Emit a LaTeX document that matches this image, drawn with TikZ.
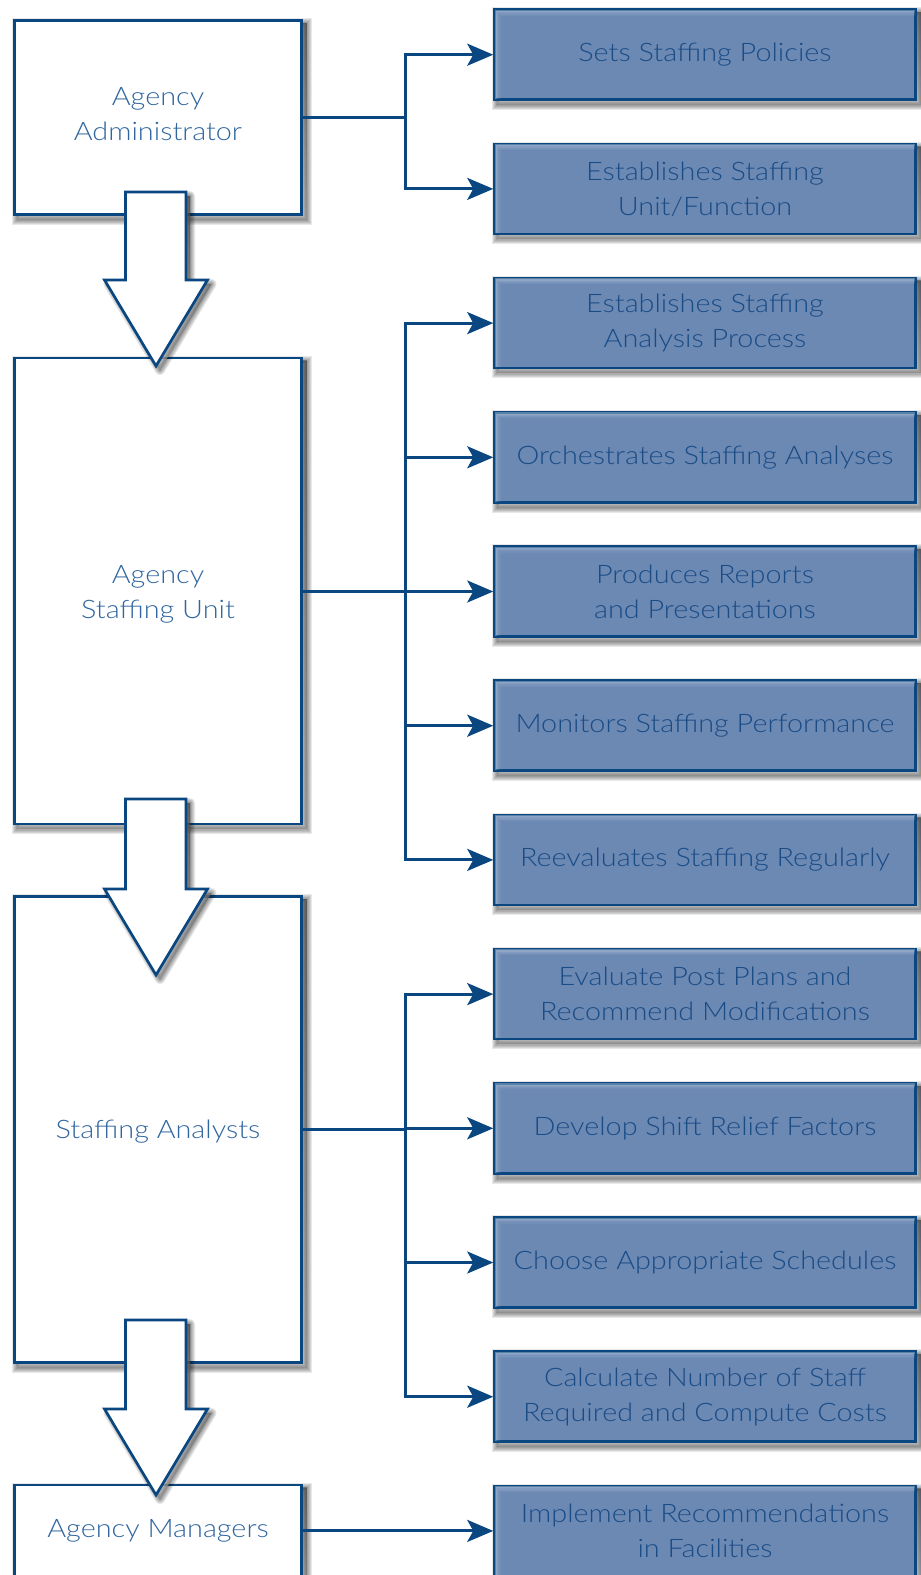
\documentclass[tikz,border=0pt]{standalone}
\usepackage{fontspec}
\setmainfont{Lato Light}[FakeStretch=1.13]
\usetikzlibrary{arrows.meta,calc,backgrounds}

\definecolor{navy}{RGB}{10,70,128}
\definecolor{lefttext}{RGB}{48,102,160}
\definecolor{taskfill}{RGB}{108,137,180}
\definecolor{tasktext}{RGB}{26,76,134}
\definecolor{shade}{RGB}{58,98,176}

\tikzset{
  leftbox/.style={draw=navy, line width=2.7pt, fill=white, minimum width=287pt,
    inner sep=0pt, text=lefttext, align=center,
    font=\fontsize{25.5}{35}\selectfont},
  taskbox/.style={draw=navy, line width=2.5pt, fill=taskfill, minimum width=421pt,
    minimum height=90pt, inner sep=0pt, text=tasktext, align=center,
    font=\fontsize{25.5}{35}\selectfont},
  link/.style={navy, line width=3pt, line cap=rect},
  linkarrow/.style={navy, line width=3pt,
    -{Stealth[length=26pt, width=22pt, inset=6pt]}},
  bigarrow/.style={draw=navy, line width=2.7pt, fill=white, line join=miter},
}

% move a line of text up or down without changing its box
\newcommand\nudge[2]{\raisebox{#1}[\height][\depth]{#2}}

% soft drop shadow below a rectangular node
\newcommand\boxshadow[1]{%
  \fill[shade, opacity=.4] ($(#1.north west)+(4,4)$) rectangle ($(#1.south east)+(4,4)$);
  \foreach \w in {2,4,6,8,10}
    {\draw[shade, opacity=.09, line width=\w pt]
      ($(#1.north west)+(4,4)$) rectangle ($(#1.south east)+(4,4)$);}
}
% light inner bevel along the top and left edges of a task box
\newcommand\innerglow[1]{%
  \foreach \k/\o in {2/.32,3.2/.24,4.4/.16,5.6/.10,6.8/.05}
    {\draw[white, opacity=\o, line width=1.2pt]
      ($(#1.south west)+(\k,-2)$) -- ($(#1.north west)+(\k,\k)$) -- ($(#1.north east)+(-2,\k)$);}
}
% white block arrow pointing down, with its shadow: top, shoulder and tip heights
\newcommand\downblock[3]{%
  \begin{scope}[shift={(4,4)}]
    \fill[shade, opacity=.4] (125.5,#1) -- (186,#1) -- (186,#2) -- (207.5,#2) -- (156,#3) -- (104.5,#2) -- (125.5,#2) -- cycle;
    \foreach \w in {2,4,6,8,10}
      {\draw[shade, opacity=.09, line width=\w pt, line join=round]
        (125.5,#1) -- (186,#1) -- (186,#2) -- (207.5,#2) -- (156,#3) -- (104.5,#2) -- (125.5,#2) -- cycle;}
  \end{scope}
  \path[bigarrow] (125.5,#1) -- (186,#1) -- (186,#2) -- (207.5,#2) -- (156,#3) -- (104.5,#2) -- (125.5,#2) -- cycle;
}

\begin{document}
\begin{tikzpicture}[x=1pt, y=-1pt]
  \useasboundingbox (0,0) rectangle (921,1575);

  % roles
  \node[leftbox, minimum height=194pt] (admin) at (158,117.5)
    {\nudge{3pt}{Agency}\\\nudge{3pt}{Administrator}};
  \node[leftbox, minimum height=466pt] (unit) at (158,591)
    {\nudge{-3pt}{Agency}\\\nudge{-3pt}{Staffing Unit}};
  \node[leftbox, minimum height=466pt] (analysts) at (158,1129.5)
    {\nudge{-2pt}{Staffing Analysts}};
  \node[leftbox, minimum height=130pt] (managers) at (158,1550)
    {\nudge{19pt}{Agency Managers}};

  % duties
  \foreach \i/\txt in {
      1/{Sets Staffing Policies},
      2/{Establishes Staffing\\Unit/Function},
      3/{Establishes Staffing\\Analysis Process},
      4/{Orchestrates Staffing Analyses},
      5/{Produces Reports\\and Presentations},
      6/{Monitors Staffing Performance},
      7/{Reevaluates Staffing Regularly},
      8/{Evaluate Post Plans and\\Recommend Modifications},
      9/{Develop Shift Relief Factors},
      10/{Choose Appropriate Schedules},
      11/{Calculate Number of Staff\\Required and Compute Costs},
      12/{Implement Recommendations\\in Facilities}}
    {\node[taskbox] (r\i) at (705,{54.7+134.2*(\i-1)}) {\txt};}

  \foreach \i in {1,...,12} {\innerglow{r\i}}

  \begin{scope}[on background layer]
    \foreach \n in {admin,unit,analysts,managers} {\boxshadow{\n}}
    \foreach \i in {1,...,12} {\boxshadow{r\i}}
  \end{scope}

  % connectors
  \coordinate (bus) at (405,0);
  \draw[link] (admin.east) -- (admin.east -| bus);
  \draw[link] (r1.west -| bus) -- (r2.west -| bus);
  \foreach \i in {1,2} {\draw[linkarrow] (r\i.west -| bus) -- (r\i.west);}

  \draw[link] (unit.east) -- (unit.east -| bus);
  \draw[link] (r3.west -| bus) -- (r7.west -| bus);
  \foreach \i in {3,...,7} {\draw[linkarrow] (r\i.west -| bus) -- (r\i.west);}

  \draw[link] (analysts.east) -- (analysts.east -| bus);
  \draw[link] (r8.west -| bus) -- (r11.west -| bus);
  \foreach \i in {8,...,11} {\draw[linkarrow] (r\i.west -| bus) -- (r\i.west);}

  \draw[linkarrow] (managers.east |- r12.west) -- (r12.west);

  % hand-offs between roles
  \downblock{192}{280}{366}
  \downblock{799}{889}{975}
  \downblock{1320}{1409}{1495}
\end{tikzpicture}
\end{document}
